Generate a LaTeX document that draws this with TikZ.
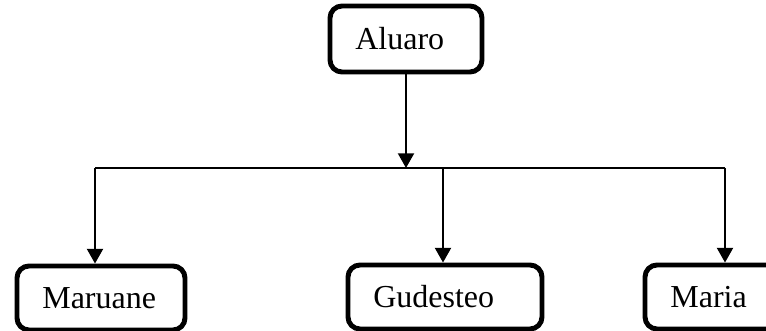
\documentclass[tikz,border=0pt]{standalone}
\usepackage{fontspec}
\setmainfont{Liberation Serif}
\usetikzlibrary{arrows.meta}
\begin{document}
\begin{tikzpicture}[x=0.75pt, y=0.75pt,
    caixa/.style={draw, line width=3.7pt, rounded corners=9pt, inner xsep=19pt,
      inner ysep=0pt, align=left, minimum height=48pt, font=\fontsize{24}{28}\selectfont},
    seta/.style={line width=1.5pt, -{Triangle[width=12pt,length=11pt]}}]
    \useasboundingbox (0,0) rectangle (766,331);
    \node[caixa, text width=76pt, minimum height=49.5pt] (aluaro) at (406,292) {Aluaro};
    \node[caixa, text width=88pt] (maruane) at (101,33) {Maruane};
    \node[caixa, text width=107.5pt] (gudesteo) at (445,34) {Gudesteo};
    \node[caixa, text width=82pt] (maria) at (725,34) {Maria};
    % barra horizontal
    \coordinate (esq) at (95,163);
    \coordinate (ramo) at (406,163);
    \coordinate (meio) at (443,163);
    \coordinate (dir) at (725,163);
    \draw[line width=1pt] (esq) -- (dir);
    \draw[seta] (aluaro.south) -- (ramo);
    \draw[seta] (esq) -- (esq |- maruane.north);
    \draw[seta] (meio) -- (meio |- gudesteo.north);
    \draw[seta] (dir) -- (dir |- maria.north);
  \end{tikzpicture}
\end{document}
